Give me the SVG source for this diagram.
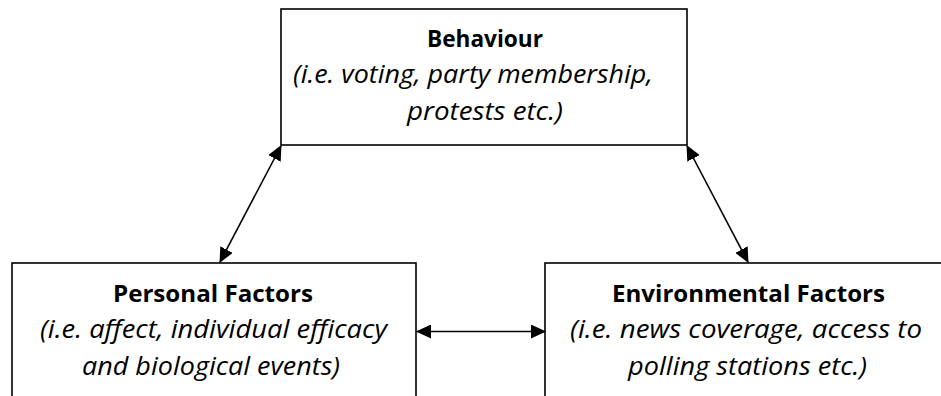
<svg xmlns="http://www.w3.org/2000/svg" width="941" height="396" viewBox="0 0 941 396">
<style>
.box{fill:#fff;stroke:#000;stroke-width:1.6}
.t{font-family:"Open Sans","Liberation Sans",sans-serif;font-size:24px;fill:#000;text-anchor:middle}
.b{font-weight:bold}
.i{font-style:italic;font-size:25px}
.c{stroke:#000;stroke-width:1.6;fill:none;marker-start:url(#ah);marker-end:url(#ah)}
</style>
<defs>
<marker id="ah" viewBox="0 0 15 14" refX="14" refY="7" markerWidth="15" markerHeight="14" markerUnits="userSpaceOnUse" orient="auto-start-reverse">
<path d="M0,0 L15,7 L0,14 Z" fill="#000"/>
</marker>
</defs>
<rect width="941" height="396" fill="#fff"/>
<g id="behaviour">
<rect class="box" x="281" y="9" width="406" height="136"/>
<text class="t b" x="485" y="47" textLength="116" lengthAdjust="spacingAndGlyphs">Behaviour</text>
<text class="t i" x="473" y="83" textLength="360" lengthAdjust="spacingAndGlyphs">(i.e. voting, party membership,</text>
<text class="t i" x="485" y="120" textLength="156" lengthAdjust="spacingAndGlyphs">protests etc.)</text>
</g>
<g id="personal">
<rect class="box" x="12" y="263" width="404" height="150"/>
<text class="t b" x="213" y="302" textLength="200" lengthAdjust="spacingAndGlyphs">Personal Factors</text>
<text class="t i" x="213.5" y="338" textLength="347" lengthAdjust="spacingAndGlyphs">(i.e. affect, individual efficacy</text>
<text class="t i" x="211" y="375" textLength="258" lengthAdjust="spacingAndGlyphs">and biological events)</text>
</g>
<g id="environmental">
<rect class="box" x="545" y="263" width="410" height="150"/>
<text class="t b" x="748.5" y="302" textLength="273" lengthAdjust="spacingAndGlyphs">Environmental Factors</text>
<text class="t i" x="746" y="338" textLength="352" lengthAdjust="spacingAndGlyphs">(i.e. news coverage, access to</text>
<text class="t i" x="747.5" y="375" textLength="239" lengthAdjust="spacingAndGlyphs">polling stations etc.)</text>
</g>
<g id="connectors">
<line class="c" x1="281" y1="146" x2="220" y2="262"/>
<line class="c" x1="687" y1="146" x2="748" y2="262"/>
<line class="c" x1="417" y1="331.5" x2="545" y2="331.5"/>
</g>
</svg>
